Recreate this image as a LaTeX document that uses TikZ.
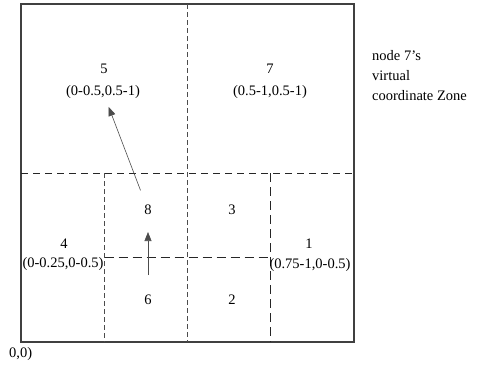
\documentclass[tikz,border=0pt]{standalone}
\usepackage{fontspec}
\setmainfont{Liberation Serif}
\usetikzlibrary{arrows.meta, positioning}

\begin{document}
\begin{tikzpicture}[
    x=1pt, y=-1pt,
    num/.style={inner sep=1pt, font=\fontsize{14.5}{16}\selectfont},
    span/.style={inner sep=1pt, font=\fontsize{14.5}{16}\selectfont},
    fine/.style={draw=black!70, line width=0.9pt, dash pattern=on 5pt off 3pt},
    coarse/.style={draw=black!85, line width=1pt, dash pattern=on 9pt off 5pt},
    arr/.style={-{Triangle[length=9pt, width=7pt]}, draw=black!70, line width=0.6pt}
]
\useasboundingbox (0,0) rectangle (484,364);

% outer zone
\draw[draw=black!75, line width=1.1pt] (21,4) rectangle (354,342);

% splits
\draw[fine] (187.5,4) -- (187.5,342);
\draw[coarse, dash pattern=on 7pt off 5pt] (21,173) -- (354,173);
\draw[fine] (104.5,173) -- (104.5,342);
\draw[coarse] (270.5,173) -- (270.5,342);
\draw[coarse] (104.5,257.5) -- (270.5,257.5);

% zone numbers
\node[num] (n5) at (104,69) {5};
\node[span] (r5) at (103,92) {(0-0.5,0.5-1)};
\node[num] (n7) at (270,69) {7};
\node[span] (r7) at (270,92) {(0.5-1,0.5-1)};
\node[num] (n8) at (148,210) {8};
\node[num] (n3) at (232,210) {3};
\node[num] (n4) at (64,244) {4};
\node[span] (r4) at (63,264) {(0-0.25,0-0.5)};
\node[num] (n1) at (309,244) {1};
\node[span] (r1) at (310,265) {(0.75-1,0-0.5)};
\node[num] (n6) at (148,300) {6};
\node[num] (n2) at (232,300) {2};

\node[span, anchor=west] (origin) at (8,354) {0,0)};
\node[span, anchor=north west, align=left, font=\fontsize{14.5}{20}\selectfont] (note) at (371,49) {node 7's\\virtual\\coordinate Zone};

% routing
\draw[arr] (n6.center) [shorten <=25pt, shorten >=22pt] -- (n8.center);
\draw[arr] (n8.center) [shorten <=21pt, shorten >=16pt] -- (r5.center);
\end{tikzpicture}
\end{document}
